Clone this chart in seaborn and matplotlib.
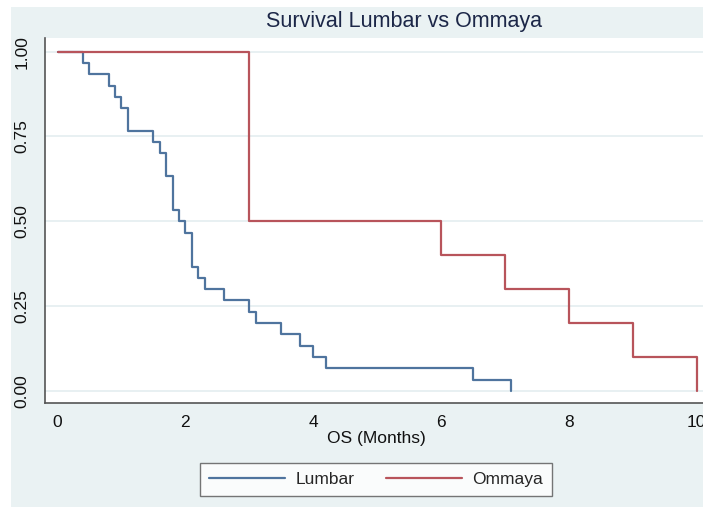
import matplotlib
matplotlib.use("Agg")
import matplotlib.pyplot as plt
import matplotlib.patches as mpatches
import seaborn as sns
import pandas as pd

# Kaplan-Meier step points
lumbar_time = [0.0, 0.4, 0.5, 0.8, 0.9, 1.0, 1.1, 1.5, 1.6, 1.7, 1.8, 1.9, 2.0,
               2.1, 2.2, 2.3, 2.6, 3.0, 3.1, 3.5, 3.8, 4.0, 4.2, 6.5, 7.1]
lumbar_surv = [1.0, 0.9667, 0.9333, 0.9, 0.8667, 0.8333, 0.7667, 0.7333, 0.7,
               0.6333, 0.5333, 0.5, 0.4667, 0.3667, 0.3333, 0.3, 0.2667, 0.2333,
               0.2, 0.1667, 0.1333, 0.1, 0.0667, 0.0333, 0.0]
ommaya_time = [0.0, 3.0, 6.0, 7.0, 8.0, 9.0, 10.0]
ommaya_surv = [1.0, 0.5, 0.4, 0.3, 0.2, 0.1, 0.0]

groups = ["Lumbar", "Ommaya"]
colors = {"Lumbar": "#4F749E", "Ommaya": "#B8545B"}
x_ticks = [0, 2, 4, 6, 8, 10]
y_ticks = [0.0, 0.25, 0.5, 0.75, 1.0]
y_tick_labels = ["0.00", "0.25", "0.50", "0.75", "1.00"]

df = pd.concat([
    pd.DataFrame({"time": lumbar_time, "surv": lumbar_surv, "group": "Lumbar"}),
    pd.DataFrame({"time": ommaya_time, "surv": ommaya_surv, "group": "Ommaya"}),
], ignore_index=True)

sns.set_style("white")
plt.rcParams["font.family"] = ["Liberation Sans", "DejaVu Sans"]

BG = "#EAF2F3"
W, H = 703, 507
fig = plt.figure(figsize=(W / 100, H / 100), dpi=100, facecolor=BG)
# thin white border at left/top as in the reference
fig.patches.append(mpatches.Rectangle((0, 0), 11 / W, 1, transform=fig.transFigure,
                                      facecolor="white", edgecolor="none", zorder=-1))
fig.patches.append(mpatches.Rectangle((0, 1 - 7 / H), 1, 7 / H, transform=fig.transFigure,
                                      facecolor="white", edgecolor="none", zorder=-1))

left, right = 45 / W, 1.0
bottom, top = 1 - 402.5 / H, 1 - 38 / H
ax = fig.add_axes([left, bottom, right - left, top - bottom])
ax.set_facecolor("white")

sns.lineplot(data=df, x="time", y="surv", hue="group", hue_order=groups,
             palette=colors, drawstyle="steps-post", estimator=None, sort=False,
             linewidth=1.6, ax=ax, legend=False, zorder=3)

ax.set_xlim(-0.196, 10.10)
ax.set_ylim(-0.034, 1.040)
ax.set_xticks(x_ticks)
ax.set_xticklabels([str(t) for t in x_ticks])
ax.set_yticks(y_ticks)
ax.set_yticklabels(y_tick_labels, rotation=90, va="center")
ax.tick_params(axis="both", direction="out", length=5, width=1, color="#555555",
               labelsize=12.5, labelcolor="#111111")
ax.tick_params(axis="x", pad=4)
ax.tick_params(axis="y", pad=6)

for s in ["top", "right"]:
    ax.spines[s].set_visible(False)
for s in ["left", "bottom"]:
    ax.spines[s].set_color("#555555")
    ax.spines[s].set_linewidth(1.2)

for yv in y_ticks:
    ax.axhline(yv, color="#E4EEF0", linewidth=1.2, zorder=1)

ax.set_xlabel("")
ax.set_ylabel("")
fig.text(376 / W, 1 - 438 / H, "OS (Months)", ha="center", va="center",
         fontsize=12.5, color="#111111")
fig.text(404 / W, 1 - 21 / H, "Survival Lumbar vs Ommaya", ha="center", va="center",
         fontsize=15.5, color="#1C2748")

handles = [plt.Line2D([], [], color=colors[g], linewidth=1.6) for g in groups]
leg = fig.legend(handles, groups, loc="center", bbox_to_anchor=(376 / W, 1 - 479.5 / H),
                 ncol=2, fontsize=12.5, frameon=True, fancybox=False,
                 handlelength=4.4, handletextpad=0.6, columnspacing=1.8,
                 borderpad=0.5, borderaxespad=0)
leg.get_frame().set_edgecolor("#555555")
leg.get_frame().set_linewidth(1.0)
leg.get_frame().set_facecolor("white")

fig.savefig("out.png", dpi=100, facecolor=BG)
